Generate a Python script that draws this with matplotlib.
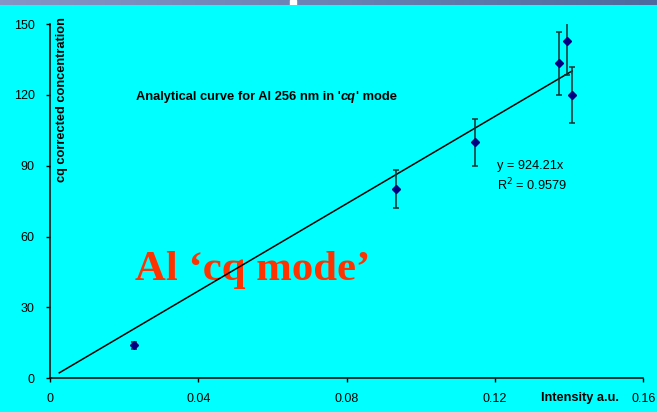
import numpy as np
import matplotlib
matplotlib.use('Agg')
import matplotlib.pyplot as plt

#---------------------------------------------
# Data
#---------------------------------------------

intensity = [0.0226, 0.0933, 0.1147, 0.1373, 0.1393, 0.1408]
concentration = [14.0, 80.2, 99.9, 133.4, 142.8, 119.9]
conc_error = [1.5, 8.0, 10.0, 13.4, 14.5, 12.0]

slope = 924.21
r_squared = 0.9579
fit_x = [0.0025, 0.1408]

x_ticks = [0, 0.04, 0.08, 0.12, 0.16]
x_tick_labels = ['0', '0.04', '0.08', '0.12', '0.16']
y_ticks = [0, 30, 60, 90, 120, 150]

#---------------------------------------------
# Figure
#---------------------------------------------

plt.rcParams['font.family'] = ['Liberation Sans', 'DejaVu Sans']

W, H = 657, 412
fig = plt.figure(figsize=(W / 100, H / 100), dpi=100)
fig.patch.set_facecolor('#00ffff')

# thin slide banner on top
band = fig.add_axes([0, 1 - 5 / H, 1, 5 / H])
grad = np.linspace(0, 1, 300)[None, :]
band.imshow(grad, aspect='auto', cmap=matplotlib.colors.LinearSegmentedColormap.from_list(
    'band', ['#8595c5', '#6a82b4', '#4d6b9e']), extent=(0, W, 0, 1))
band.axvspan(290, 296, color='white')
band.set_xlim(0, W)
band.axis('off')

ax = fig.add_axes([50 / W, (H - 378.3) / H, 593.3 / W, (378.3 - 24) / H])
ax.set_facecolor('#00ffff')

fit_y = [slope * v for v in fit_x]
ax.plot(fit_x, fit_y, color='black', lw=1.1, zorder=2)

ax.errorbar(intensity, concentration, yerr=conc_error, fmt='D', color='#000080',
            markersize=4.5, ecolor='#0b3030', elinewidth=1.1, capsize=2.5,
            capthick=1.1, zorder=3)

ax.set_xlim(0, 0.16)
ax.set_ylim(0, 150)
ax.set_xticks(x_ticks)
ax.set_xticklabels(x_tick_labels)
ax.set_yticks(y_ticks)
for s in ['top', 'right']:
    ax.spines[s].set_visible(False)
for s in ['left', 'bottom']:
    ax.spines[s].set_linewidth(1.1)
ax.tick_params(axis='both', direction='out', length=3, width=1, labelsize=9,
               colors='black')
ax.tick_params(axis='y', pad=8)
ax.tick_params(axis='x', pad=7.5)

# axis titles placed like the Excel chart
fig.text(62 / W, 1 - 100 / H, 'cq corrected concentration', rotation=90,
         fontsize=9.2, fontweight='bold', ha='center', va='center')
fig.text(580 / W, 1 - 398 / H, 'Intensity a.u.', fontsize=9.2,
         fontweight='bold', ha='center', va='center')

# chart title, with the italic 'cq' part
renderer = fig.canvas.get_renderer()
x_px, y_px = 136, H - 97
for piece, style in [("Analytical curve for Al 256 nm in '", 'normal'),
                     ('cq', 'italic'), ("' mode", 'normal')]:
    t = fig.text(x_px / W, y_px / H, piece, fontsize=9.3, fontweight='bold',
                 style=style, ha='left', va='center')
    x_px += t.get_window_extent(renderer).width

ax.text(0.1205, 85.4, 'y = 924.21x\nR$^2$ = 0.9579', fontsize=9.2,
        ha='left', va='center', linespacing=1.33)

ax.text(0.0229, 41.6, 'Al \u2018cq mode\u2019', fontsize=30.8, fontweight='bold',
        family='Liberation Serif', color='#ff3300', ha='left', va='baseline',
        zorder=1)

fig.savefig('out.png', dpi=100, facecolor=fig.get_facecolor())
